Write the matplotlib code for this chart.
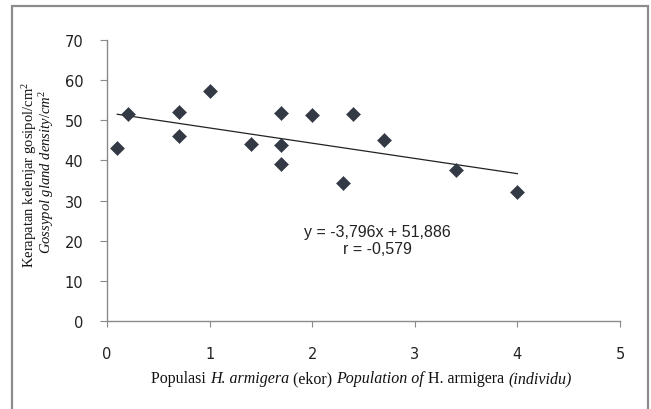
import matplotlib
matplotlib.use("Agg")
import matplotlib.pyplot as plt
from matplotlib.patches import Rectangle

# data
populasi = [0.1, 0.2, 0.7, 0.7, 1.0, 1.4, 1.7, 1.7, 1.7, 2.0, 2.3, 2.4, 2.7, 3.4, 4.0]
kerapatan = [43.1, 51.6, 52.0, 46.2, 57.4, 44.1, 51.7, 43.9, 39.1, 51.4, 34.3, 51.5, 45.1, 37.5, 32.1]
slope = -3.796
intercept = 51.886
r_value = -0.579
fit_x = [0.1, 4.0]
x_ticks = [0, 1, 2, 3, 4, 5]
x_tick_labels = ["0", "1", "2", "3", "4", "5"]
y_ticks = [0, 10, 20, 30, 40, 50, 60, 70]
xlabel_parts = [("Populasi ", "normal"), ("H. armigera", "italic"),
                (" (ekor) ", "normal"), ("Population of", "italic"),
                (" H. armigera ", "normal"), ("(individu)", "italic")]

plt.rcParams["mathtext.fontset"] = "custom"
plt.rcParams["mathtext.rm"] = "Liberation Serif"
plt.rcParams["mathtext.it"] = "Liberation Serif:italic"

fig = plt.figure(figsize=(6.51, 4.10), dpi=100)
ax = fig.add_axes([107 / 651, 1 - 322 / 410, (620 - 107) / 651, (322 - 41) / 410])

ax.plot(populasi, kerapatan, "D", color="#333a45", markersize=6.8,
        markeredgewidth=0.4, markeredgecolor="#333a45", zorder=3)
fit_y = [slope * x + intercept for x in fit_x]
ax.plot(fit_x, fit_y, color="#222222", linewidth=0.9, zorder=2)

ax.set_xlim(0, 5)
ax.set_ylim(0, 70)
ax.set_xticks(x_ticks)
ax.set_xticklabels(x_tick_labels)
ax.set_yticks(y_ticks)
for s in ["top", "right"]:
    ax.spines[s].set_visible(False)
for s in ["left", "bottom"]:
    ax.spines[s].set_color("#8a8a8a")
    ax.spines[s].set_linewidth(1.0)
ax.tick_params(axis="y", length=5, color="#8a8a8a", pad=12,
               labelsize=10.5, labelcolor="#222222")
ax.tick_params(axis="x", length=4, color="#8a8a8a", pad=14,
               labelsize=10.5, labelcolor="#222222")
for lab in ax.get_xticklabels() + ax.get_yticklabels():
    lab.set_fontfamily("DejaVu Sans")

ax.text(2.64, 22.4, "y = -3,796x + 51,886", ha="center", va="center",
        fontsize=11.5, family="Liberation Sans", color="#222222")
ax.text(2.64, 18.0, "r = %s" % str(r_value).replace(".", ","), ha="center",
        va="center", fontsize=11.5, family="Liberation Sans", color="#222222")

fig.text(30 / 651, 1 - 175 / 410, r"Kerapatan kelenjar gosipol/cm$^2$",
         rotation=90, ha="center", va="center", fontsize=10.5,
         family="Liberation Serif", color="#111111")
fig.text(47 / 651, 1 - 172 / 410, r"$\mathit{Gossypol\ gland\ density/cm^2}$",
         rotation=90, ha="center", va="center", fontsize=10.5,
         family="Liberation Serif", color="#111111")

# x label built from pieces on one baseline, placed by measured widths
renderer = fig.canvas.get_renderer()
x_px = 151.0
base_y = 1 - 383 / 410
for txt, style in xlabel_parts:
    t = fig.text(x_px / 651, base_y, txt, ha="left", va="baseline",
                 fontsize=11.5, family="Liberation Serif", style=style,
                 color="#111111")
    x_px += t.get_window_extent(renderer).width

# grey frame around the picture
fig.patches.append(Rectangle((12 / 651, -0.05), (648 - 12) / 651, 1.05 - 7 / 410,
                             transform=fig.transFigure, fill=False,
                             edgecolor="#8c8c8c", linewidth=1.6))

fig.savefig("out.png", dpi=100)
